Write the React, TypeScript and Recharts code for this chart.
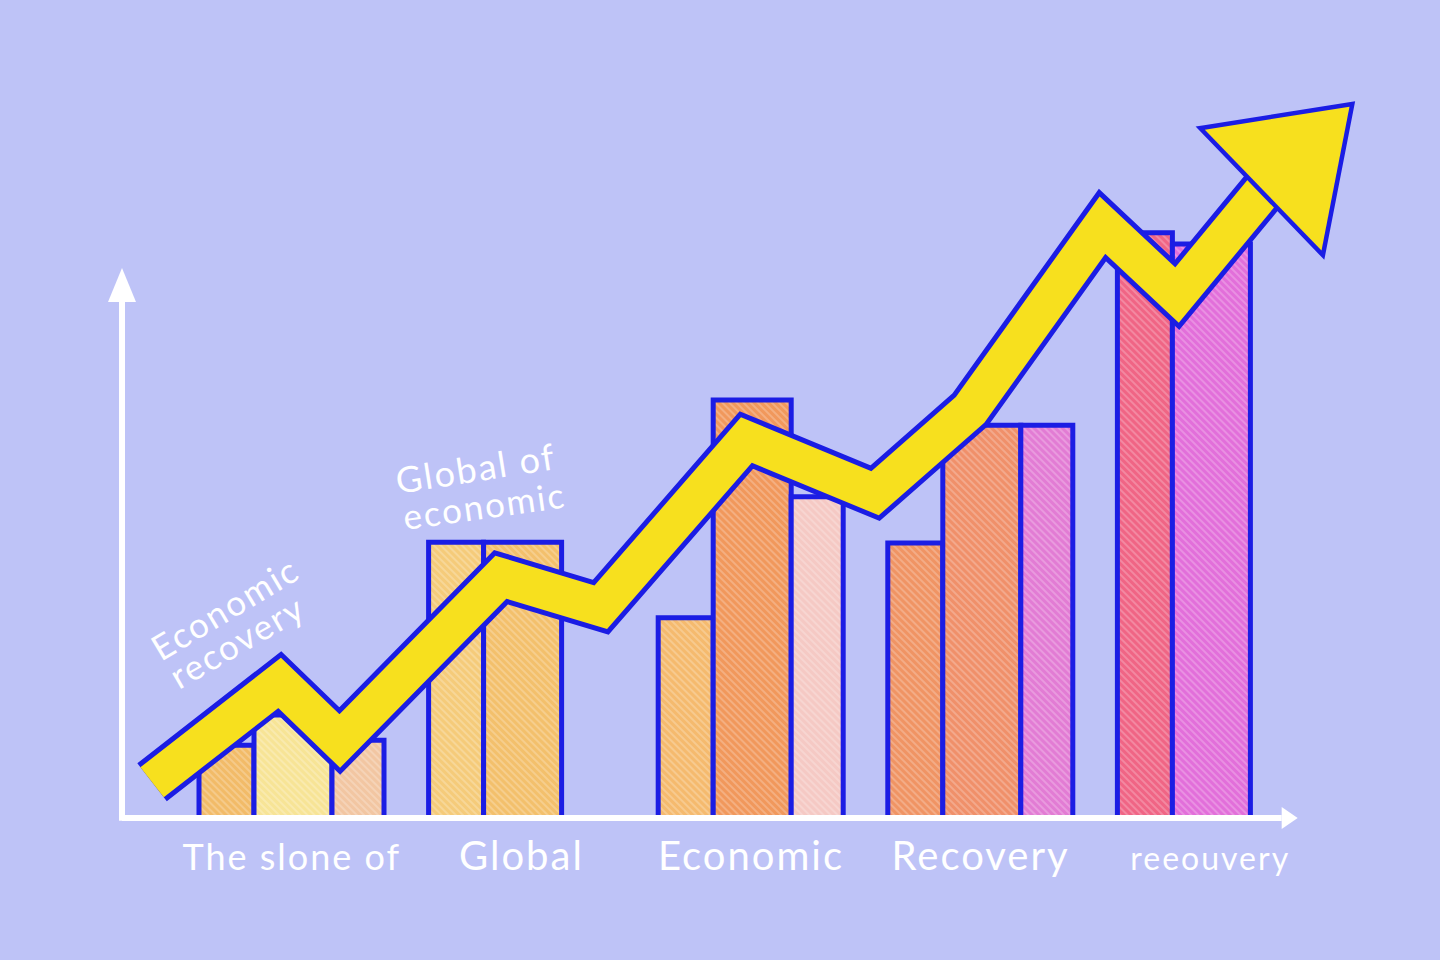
import { ComposedChart, Bar, Line, XAxis, YAxis, Cell, ReferenceLine, ReferenceDot } from "recharts";

const groups = ["The slone of", "Global", "Economic", "Recovery", "reeouvery"];
const firstBars = [10.4, 39.4, 28.6, 39.3, 83.6];
const secondBars = [14.7, 39.4, 59.7, 56.1, 82.0];
const thirdBars = [11.1, null, 45.9, 56.1, null];

// trend arrow, step along the time axis and its level
const trendSteps = [2.5, 13.1, 18.1, 31.5, 39.8, 51.9, 62.6, 70.5, 81.5, 87.7, 95.1];
const trendValues = [5.1, 19.3, 11.0, 34.4, 30.1, 54.0, 46.4, 58.3, 84.7, 74.7, 90.1];

const notes = [
  { text: "Economic", x: 161, y: 662, angle: -31, size: 35 },
  { text: "recovery", x: 179, y: 690, angle: -30, size: 35 },
  { text: "Global of", x: 398, y: 494, angle: -9, size: 36 },
  { text: "economic", x: 405, y: 530, angle: -8, size: 35 },
];

const BG = "#BEC3F7";
const BLUE = "#1B1DE4";
const YELLOW = "#F7E01E";
const FONT = "Lato, 'Noto Sans', sans-serif";

const barColors = [
  ["#F2BB68", "#F5CB7A", "#F5BA6E", "#F09464", "#F06585"],
  ["#F7E496", "#F3C06C", "#F1985C", "#F0906A", "#E26FDA"],
  ["#F2C6A2", "#F3C06C", "#F5C9C4", "#E27CD4", "#E26FDA"],
];
const barSizes = [55, 78, 52];
const tickSizes = [36, 40, 40, 40, 32];

const rows = groups.map((g, i) => ({ group: g, a: firstBars[i], b: secondBars[i], c: thirdBars[i] }));
const trend = trendSteps.map((t, i) => ({ t, v: trendValues[i] }));

const GroupTick = (props: any) => {
  const { x, y, payload } = props;
  const i = groups.indexOf(payload.value);
  return (
    <text x={x} y={y} dy={52} textAnchor="middle" fill="#fff" fontFamily={FONT} fontSize={tickSizes[i]} letterSpacing={2}>
      {payload.value}
    </text>
  );
};

const headUnder = (p: any) =>
  p.index === trend.length - 1 ? (
    <g key="head-under" transform={`translate(${p.cx},${p.cy}) rotate(-44)`}>
      <polygon points="-4,-84 116,0 -4,84" fill={YELLOW} stroke={BLUE} strokeWidth={9} strokeLinejoin="miter" />
    </g>
  ) : (
    <g key={`u${p.index}`} />
  );

const headOver = (p: any) =>
  p.index === trend.length - 1 ? (
    <g key="head-over" transform={`translate(${p.cx},${p.cy}) rotate(-44)`}>
      <polygon points="-4,-84 116,0 -4,84" fill={YELLOW} />
    </g>
  ) : (
    <g key={`o${p.index}`} />
  );

const xArrow = (p: any) => <polygon points={`${p.cx},${p.cy - 11} ${p.cx + 16},${p.cy} ${p.cx},${p.cy + 11}`} fill="#fff" />;
const yArrow = (p: any) => <polygon points={`${p.cx - 14},${p.cy} ${p.cx},${p.cy - 34} ${p.cx + 14},${p.cy}`} fill="#fff" />;

export default function App() {
  const keys = ["a", "b", "c"];
  return (
    <div style={{ position: "absolute", top: 0, left: 0, width: 1440, height: 960, background: BG, overflow: "hidden" }}>
      <ComposedChart width={1440} height={960} data={rows} margin={{ top: 118, right: 115, bottom: 82, left: 122 }} barGap={0} barCategoryGap={0}>
        <defs>
          {barColors.map((list, s) =>
            list.map((c, g) => (
              <pattern key={`p${s}${g}`} id={`hatch-${s}-${g}`} width={5} height={5} patternUnits="userSpaceOnUse" patternTransform="rotate(-45)">
                <rect width={5} height={5} fill={c} />
                <line x1={1} y1={0} x2={1} y2={5} stroke="#fff" strokeOpacity={0.3} strokeWidth={1.5} />
              </pattern>
            ))
          )}
        </defs>
        <XAxis xAxisId="groups" dataKey="group" height={60} tickLine={false} axisLine={false} tickSize={0} tickMargin={0} interval={0} padding={{ left: 55, right: 0 }} tick={<GroupTick />} />
        <XAxis xAxisId="trend" type="number" dataKey="t" domain={[0, 100]} hide />
        <YAxis domain={[0, 100]} hide />
        {keys.map((k, s) => (
          <Bar key={k} xAxisId="groups" dataKey={k} barSize={barSizes[s]} stroke={BLUE} strokeWidth={5} isAnimationActive={false}>
            {rows.map((_, g) => (
              <Cell key={g} fill={`url(#hatch-${s}-${g})`} />
            ))}
          </Bar>
        ))}
        <ReferenceLine xAxisId="trend" segment={[{ x: 0, y: 0 }, { x: 96.4, y: 0 }]} stroke="#fff" strokeWidth={6} ifOverflow="visible" />
        <ReferenceLine xAxisId="trend" segment={[{ x: 0, y: -0.4 }, { x: 0, y: 73.9 }]} stroke="#fff" strokeWidth={6} ifOverflow="visible" />
        <ReferenceDot xAxisId="trend" x={96.4} y={0} ifOverflow="visible" shape={xArrow} />
        <ReferenceDot xAxisId="trend" x={0} y={73.7} ifOverflow="visible" shape={yArrow} />
        <Line xAxisId="trend" data={trend} dataKey="v" type="linear" stroke={BLUE} strokeWidth={48} strokeLinejoin="miter" dot={headUnder} activeDot={false} isAnimationActive={false} />
        <Line xAxisId="trend" data={trend} dataKey="v" type="linear" stroke={YELLOW} strokeWidth={38} strokeLinejoin="miter" dot={headOver} activeDot={false} isAnimationActive={false} />
      </ComposedChart>
      <svg width={1440} height={960} style={{ position: "absolute", top: 0, left: 0, pointerEvents: "none" }}>
        {notes.map((n) => (
          <text key={n.text} x={n.x} y={n.y} transform={`rotate(${n.angle} ${n.x} ${n.y})`} fill="#fff" fontFamily={FONT} fontSize={n.size} letterSpacing={2}>
            {n.text}
          </text>
        ))}
      </svg>
    </div>
  );
}
